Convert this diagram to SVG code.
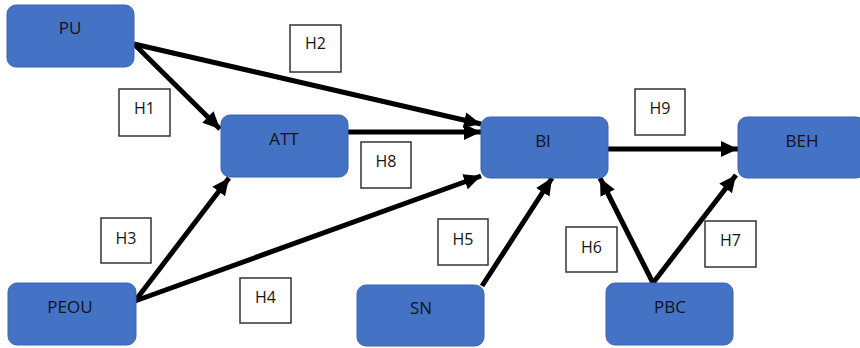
<svg xmlns="http://www.w3.org/2000/svg" width="860" height="348" viewBox="0 0 860 348">
<style>
.node{fill:#4472C4;stroke:#3A63AE;stroke-width:1}
.nt{font-family:"Open Sans","Liberation Sans",sans-serif;font-size:17px;fill:#141414;text-anchor:middle}
.lb{fill:#fff;stroke:#333;stroke-width:1.5}
.lt{font-family:"Open Sans","Liberation Sans",sans-serif;font-size:16px;fill:#141414;text-anchor:middle}
.c{stroke:#000;stroke-width:5;fill:none;marker-end:url(#ah)}
</style>
<defs>
<marker id="ah" markerUnits="userSpaceOnUse" markerWidth="18" markerHeight="18" viewBox="0 0 18 18" refX="17" refY="9" orient="auto">
<path d="M0,1 L17,9 L0,17 Z" fill="#000"/>
</marker>
</defs>
<rect width="860" height="348" fill="#fff"/>
<g id="connectors">
<line class="c" x1="134" y1="44" x2="220" y2="129"/>
<line class="c" x1="134" y1="44" x2="481" y2="124"/>
<line class="c" x1="348" y1="132" x2="481" y2="132"/>
<line class="c" x1="135" y1="301" x2="229" y2="178"/>
<line class="c" x1="135" y1="301" x2="481" y2="176"/>
<line class="c" x1="482" y1="286" x2="552" y2="178"/>
<line class="c" x1="653" y1="283" x2="600" y2="178"/>
<line class="c" x1="653" y1="283" x2="736" y2="175"/>
<line class="c" x1="608" y1="149" x2="738" y2="149"/>
</g>
<g id="PU"><rect class="node" x="7" y="5" width="127" height="62" rx="9"/><text class="nt" x="70" y="34">PU</text></g>
<g id="ATT"><rect class="node" x="221" y="115" width="127" height="62" rx="9"/><text class="nt" x="284" y="145">ATT</text></g>
<g id="BI"><rect class="node" x="481" y="117" width="127" height="61" rx="9"/><text class="nt" x="543" y="147">BI</text></g>
<g id="BEH"><rect class="node" x="738" y="117" width="127" height="61" rx="9"/><text class="nt" x="802" y="147">BEH</text></g>
<g id="PEOU"><rect class="node" x="8" y="283" width="128" height="62" rx="9"/><text class="nt" x="70" y="313">PEOU</text></g>
<g id="SN"><rect class="node" x="357" y="285" width="127" height="61" rx="9"/><text class="nt" x="421" y="314">SN</text></g>
<g id="PBC"><rect class="node" x="606" y="283" width="127" height="62" rx="9"/><text class="nt" x="670" y="313">PBC</text></g>
<g id="H1"><rect class="lb" x="119" y="89" width="51" height="47"/><text class="lt" x="144.5" y="114">H1</text></g>
<g id="H2"><rect class="lb" x="290" y="25" width="51" height="47"/><text class="lt" x="315.5" y="49">H2</text></g>
<g id="H3"><rect class="lb" x="101" y="218" width="50" height="45"/><text class="lt" x="126" y="244">H3</text></g>
<g id="H4"><rect class="lb" x="240" y="278" width="51" height="45"/><text class="lt" x="265.5" y="303">H4</text></g>
<g id="H5"><rect class="lb" x="438" y="219" width="50" height="46"/><text class="lt" x="463" y="245">H5</text></g>
<g id="H6"><rect class="lb" x="566" y="227" width="51" height="45"/><text class="lt" x="591.5" y="253">H6</text></g>
<g id="H7"><rect class="lb" x="705" y="221" width="51" height="46"/><text class="lt" x="730.5" y="246">H7</text></g>
<g id="H8"><rect class="lb" x="361" y="142" width="50" height="46"/><text class="lt" x="386" y="167">H8</text></g>
<g id="H9"><rect class="lb" x="635" y="89" width="50" height="46"/><text class="lt" x="660" y="114">H9</text></g>
</svg>
